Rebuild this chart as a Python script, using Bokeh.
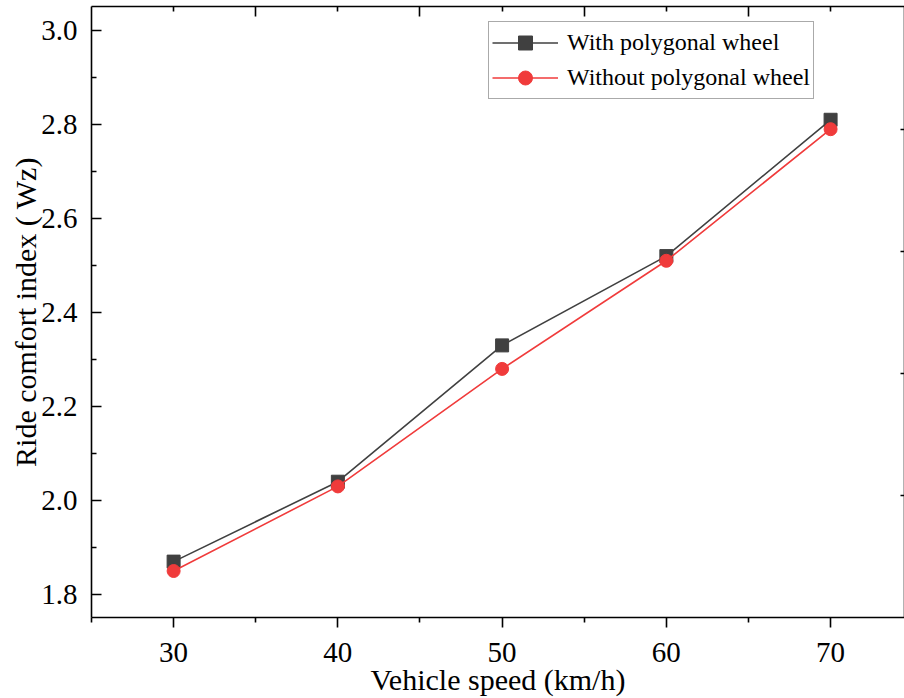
from bokeh.plotting import figure
from bokeh.models import Range1d, LinearAxis, FixedTicker, PrintfTickFormatter, CustomJSTickFormatter
from bokeh.embed import file_html
from bokeh.resources import INLINE

# ---- data ----
speed = [30, 40, 50, 60, 70]
with_poly = [1.87, 2.04, 2.33, 2.52, 2.81]
without_poly = [1.85, 2.03, 2.28, 2.51, 2.79]

x_major = [30, 40, 50, 60, 70]
x_minor = [25, 35, 45, 55, 65, 75]
top_major = [35, 45, 55, 65, 75]
top_minor = [30, 40, 50, 60, 70]
y_major = [1.8, 2.0, 2.2, 2.4, 2.6, 2.8, 3.0]
y_minor = [1.9, 2.1, 2.3, 2.5, 2.7, 2.9]
right_ticks = [2.01, 2.27, 2.53, 2.79]

FONT = "Liberation Serif"
GRAY = "#404040"
RED = "#F03B3B"

p = figure(
    width=904, height=698,
    x_range=Range1d(25, 74.5), y_range=Range1d(1.7511, 3.051),
    output_backend="svg", toolbar_location=None,
    min_border_left=91, min_border_right=0, min_border_top=6, min_border_bottom=80,
    x_axis_label="Vehicle speed (km/h)", y_axis_label="Ride comfort index ( Wz)",
)
p.outline_line_color = None
p.xgrid.visible = False
p.ygrid.visible = False
p.background_fill_color = "white"

# bottom axis
xa = p.xaxis[0]
xa.ticker = FixedTicker(ticks=x_major, minor_ticks=x_minor)
xa.major_tick_in = 0
xa.major_tick_out = 10
xa.minor_tick_in = 0
xa.minor_tick_out = 5
xa.major_label_standoff = 15
xa.axis_label_standoff = -2

# left axis
ya = p.yaxis[0]
ya.ticker = FixedTicker(ticks=y_major, minor_ticks=y_minor)
ya.formatter = PrintfTickFormatter(format="%.1f")
ya.major_tick_in = 10
ya.major_tick_out = 0
ya.minor_tick_in = 5
ya.minor_tick_out = 0
ya.major_label_standoff = 14
ya.axis_label_standoff = -4

for ax in (xa, ya):
    ax.axis_line_width = 1.6
    ax.major_tick_line_width = 1.6
    ax.minor_tick_line_width = 1.6
    ax.axis_line_color = "black"
    ax.major_label_text_font = FONT
    ax.major_label_text_font_size = "29px"
    ax.major_label_text_color = "black"
    ax.axis_label_text_font = FONT
    ax.axis_label_text_font_size = "30px"
    ax.axis_label_text_font_style = "normal"
    ax.axis_label_text_color = "black"

blank = CustomJSTickFormatter(code="return ''")

# top axis
ta = LinearAxis(ticker=FixedTicker(ticks=top_major, minor_ticks=top_minor), formatter=blank)
ta.major_tick_in = 10
ta.major_tick_out = 0
ta.minor_tick_in = 5
ta.minor_tick_out = 0
ta.major_label_standoff = 0
p.add_layout(ta, "above")

# right axis
ra = LinearAxis(ticker=FixedTicker(ticks=right_ticks, minor_ticks=[]), formatter=blank)
ra.major_tick_in = 4
ra.major_tick_out = 0
ra.minor_tick_in = 0
ra.minor_tick_out = 0
ra.major_label_standoff = 0
p.add_layout(ra, "right")

for ax in (ta, ra):
    ax.axis_line_width = 1.6
    ax.major_tick_line_width = 1.6
    ax.minor_tick_line_width = 1.6

# series
p.line(speed, with_poly, line_color=GRAY, line_width=1.6, legend_label="With polygonal wheel")
p.scatter(speed, with_poly, marker="square", size=13, fill_color=GRAY, line_color=GRAY,
          legend_label="With polygonal wheel")
p.line(speed, without_poly, line_color=RED, line_width=1.6, legend_label="Without polygonal wheel")
p.scatter(speed, without_poly, marker="circle", size=13, fill_color=RED, line_color=RED,
          legend_label="Without polygonal wheel")

lg = p.legend[0]
lg.location = (397, 518)
lg.label_text_font = FONT
lg.label_text_font_size = "24px"
lg.label_text_color = "black"
lg.glyph_width = 66
lg.glyph_height = 35
lg.label_height = 35
lg.label_standoff = 9
lg.spacing = 0
lg.padding = 3
lg.margin = 0
lg.border_line_color = "#555555"
lg.border_line_width = 1
lg.background_fill_alpha = 1

open("out.html", "w").write(file_html(p, INLINE))
